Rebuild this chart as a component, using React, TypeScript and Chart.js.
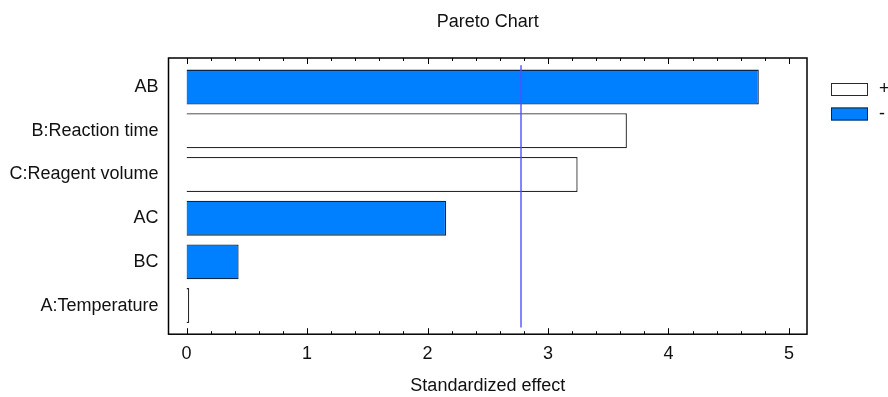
import React, { useEffect, useRef } from "react";
import { Chart, registerables } from "chart.js";

Chart.register(...registerables);

// ---- data ----
const factors = ["AB", "B:Reaction time", "C:Reagent volume", "AC", "BC", "A:Temperature"];
const effects = [4.75, 3.655, 3.246, 2.155, 0.432, 0.022];
const signs = ["-", "+", "+", "-", "-", "+"];
const criticalValue = 2.776;
const legendLabels = ["+", "-"];
const majorStep = 1;
const minorPerMajor = 5;

const FONT = "'Liberation Sans', Arial, sans-serif";
const FS = 18;
const BLUE = "#0080ff";
const BLUE_BORDER = "#0b2748";
const WHITE_BORDER = "#2a2a2a";

const framePlugin = {
  id: "paretoFrame",
  afterDatasetsDraw(chart: any) {
    const { ctx, chartArea: a, scales } = chart;
    const xs = scales.x;
    const ys = scales.y;
    ctx.save();
    // critical value line
    const cx = xs.getPixelForValue(criticalValue);
    ctx.strokeStyle = "#5050ff";
    ctx.lineWidth = 1.4;
    ctx.beginPath();
    ctx.moveTo(cx, ys.getPixelForValue(-0.5));
    ctx.lineTo(cx, ys.getPixelForValue(factors.length - 0.5));
    ctx.stroke();

    // frame
    ctx.strokeStyle = "#000";
    ctx.lineWidth = 1.5;
    ctx.strokeRect(a.left, a.top, a.right - a.left, a.bottom - a.top);

    // tick marks (top and bottom, pointing inward)
    ctx.lineWidth = 1;
    const minorStep = majorStep / minorPerMajor;
    for (let i = 0; ; i++) {
      const v = i * minorStep;
      if (v > xs.max + 1e-9) break;
      const px = Math.round(xs.getPixelForValue(v)) + 0.5;
      const len = i % minorPerMajor === 0 ? 6 : 3;
      ctx.beginPath();
      ctx.moveTo(px, a.bottom);
      ctx.lineTo(px, a.bottom - len);
      ctx.moveTo(px, a.top);
      ctx.lineTo(px, a.top + len);
      ctx.stroke();
    }

    // legend
    const lx = a.right + 24;
    const ly0 = a.top + 25;
    const rowGap = 24.5;
    ctx.font = `${FS}px ${FONT}`;
    ctx.textBaseline = "middle";
    ctx.textAlign = "left";
    legendLabels.forEach((lab, i) => {
      const y = ly0 + i * rowGap;
      ctx.fillStyle = lab === "+" ? "#ffffff" : BLUE;
      ctx.strokeStyle = lab === "+" ? WHITE_BORDER : BLUE_BORDER;
      ctx.lineWidth = 1;
      ctx.fillRect(lx, y, 37, 13);
      ctx.strokeRect(lx + 0.5, y + 0.5, 36, 12);
      ctx.fillStyle = "#111";
      ctx.fillText(lab, lx + 48, y + 6.5);
    });
    ctx.restore();
  },
};

export default function App() {
  const ref = useRef<HTMLCanvasElement | null>(null);

  useEffect(() => {
    if (!ref.current) return;
    const data = effects.map((v, i) => ({ x: v, y: i }));
    const chart = new Chart(ref.current, {
      type: "bar",
      data: {
        datasets: [
          {
            data: data as any,
            backgroundColor: signs.map((s) => (s === "+" ? "#ffffff" : BLUE)),
            borderColor: signs.map((s) => (s === "+" ? WHITE_BORDER : BLUE_BORDER)),
            borderWidth: 1.3,
            categoryPercentage: 1,
            barPercentage: 0.8,
          },
        ],
      },
      options: {
        indexAxis: "y",
        animation: false,
        responsive: true,
        maintainAspectRatio: false,
        layout: { padding: { top: 0, right: 81, bottom: 0, left: 0 } },
        plugins: {
          legend: { display: false },
          tooltip: { enabled: false },
          title: {
            display: true,
            text: "Pareto Chart",
            fullSize: false,
            color: "#111",
            font: { family: FONT, size: FS, weight: "normal" },
            padding: { top: 11.2, bottom: 25.2 },
          },
        },
        scales: {
          x: {
            type: "linear",
            min: -0.15,
            max: 5.15,
            offset: false,
            grid: { display: false, drawTicks: false },
            border: { display: false },
            ticks: {
              stepSize: majorStep,
              includeBounds: false,
              color: "#111",
              padding: 8.8,
              maxRotation: 0,
              font: { family: FONT, size: FS },
            },
            title: {
              display: true,
              text: "Standardized effect",
              color: "#111",
              font: { family: FONT, size: FS },
              padding: { top: 2, bottom: 0 },
            },
          },
          y: {
            type: "linear",
            reverse: true,
            offset: false,
            min: -0.665,
            max: 5.655,
            grid: { display: false, drawTicks: false },
            border: { display: false },
            afterFit: (scale: any) => {
              scale.width = 168.5;
            },
            ticks: {
              stepSize: 1,
              includeBounds: false,
              autoSkip: false,
              color: "#111",
              padding: 10,
              font: { family: FONT, size: FS },
              callback: (v: any) => (Number.isInteger(v) && factors[v] !== undefined ? factors[v] : ""),
            },
          },
        },
      } as any,
      plugins: [framePlugin],
    });
    return () => chart.destroy();
  }, []);

  return (
    <div style={{ position: "fixed", left: 0, top: 0, width: 888, height: 397, background: "#fff" }}>
      <canvas ref={ref} />
    </div>
  );
}
